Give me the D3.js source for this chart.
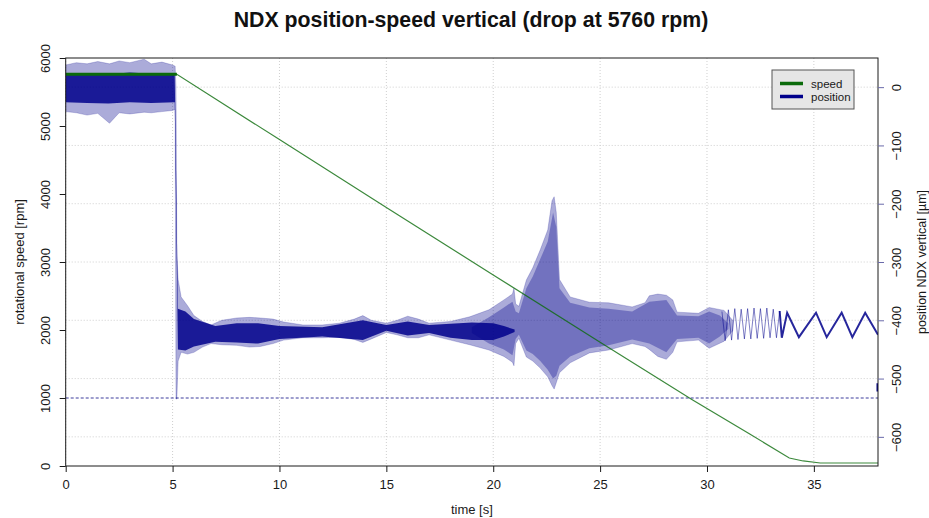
<!DOCTYPE html>
<html>
<head>
<meta charset="utf-8">
<script src="https://cdnjs.cloudflare.com/ajax/libs/d3/7.8.5/d3.min.js"></script>
<style>
	body { margin: 0; background: #fff; }
	svg { display: block; font-family: "Liberation Sans", Arial, sans-serif; }
	.axis text { font-size: 13px; fill: #1a1a1a; }
	.axis line { stroke: #1a1a1a; }
	.y-right-axis line { stroke: #6a6aaa; }
	.grid line { stroke: #cfcfcf; stroke-dasharray: 1,2; }
</style>
</head>
<body>
<div id="chart"></div>
<script>

// rotational speed trace [rpm]
var speedTime = [0, 5.2, 10, 15, 20, 25, 29.33, 32, 33.85, 34.5, 35.3, 38];
var speedRpm  = [5760, 5760, 4800, 3800, 2810, 1820, 970, 470, 118, 74, 44, 44];

// position signal, outer envelope [um]
var posTime = [0, 0.5, 1, 1.5, 2.05, 2.5, 3, 3.67, 4, 4.5, 5, 5.12, 5.16, 5.2, 5.26, 5.4, 5.7, 6, 6.4, 6.8,
	7.3, 8, 8.6, 9.1, 9.7, 10.2, 11.1, 12, 12.8, 13.5, 13.9, 14.3, 15, 15.5, 16, 16.5, 17, 18, 18.9, 19.8,
	20.5, 20.9, 20.97, 21.05, 21.2, 21.55, 21.85, 22.2, 22.55, 22.75, 22.85, 22.95, 23.1, 23.6, 24.5, 25.4,
	26.5, 27.1, 27.3, 27.7, 28.1, 28.4, 28.6, 29.6, 30.1, 30.8, 31.2];
var posHigh = [38, 42, 40, 44, 40, 45, 42, 48, 40, 43, 38, 36, 0, -288, -330, -360, -375, -392, -402, -408,
	-400, -396, -395, -396, -398, -403, -408, -408, -405, -398, -392, -400, -405, -400, -393, -398, -405, -402, -394, -382,
	-365, -355, -345, -372, -376, -331, -310, -279, -245, -195, -188, -215, -330, -360, -369, -370,
	-377, -370, -358, -355, -357, -365, -386, -388, -378, -383, -400];
var posLow = [-42, -44, -48, -45, -62, -44, -46, -43, -44, -42, -40, -38, -535, -535, -470, -455, -458, -455, -446, -440,
	-442, -443, -446, -445, -440, -434, -430, -430, -429, -433, -438, -432, -421, -425, -430, -430, -425, -434, -442, -451,
	-462, -472, -478, -440, -431, -463, -470, -482, -497, -512, -518, -507, -490, -473, -456, -451,
	-440, -445, -450, -462, -467, -455, -437, -434, -448, -436, -418];

// position signal, dense core [um]
var coreTime = [0, 1, 2, 3, 4, 5.1, 5.25, 5.6, 6, 7, 8, 9, 10, 12, 13.9, 15, 16, 17, 18, 19, 20, 20.5, 21];
var coreHigh = [22, 24, 22, 25, 23, 22, -380, -385, -398, -410, -405, -405, -410, -412, -400, -408, -402, -408, -406, -404, -405, -410, -416];
var coreLow = [-26, -27, -28, -26, -27, -26, -450, -452, -445, -437, -438, -440, -432, -428, -434, -418, -426, -422, -430, -434, -434, -428, -420];

// position signal, striped part 19..31 s [um]
var stripeTime = [19, 19.8, 20.5, 20.9, 21.05, 21.2, 21.55, 21.85, 22.2, 22.55, 22.8, 22.95, 23.1, 23.6, 24.5, 25.4,
	26.5, 27.3, 28.1, 28.6, 29.6, 30.1, 30.6, 31];
var stripeHigh = [-412, -395, -378, -368, -385, -388, -345, -325, -295, -265, -215, -240, -345, -370, -378, -380,
	-385, -368, -365, -392, -393, -385, -392, -405];
var stripeLow = [-422, -440, -450, -460, -432, -425, -452, -458, -470, -485, -500, -495, -478, -462, -448, -443,
	-433, -440, -455, -432, -430, -440, -428, -415];

// position signal, fast zigzag fading out [um]
var zigTime = [30.7, 30.85, 31, 31.15, 31.3, 31.45, 31.6, 31.75, 31.9, 32.05, 32.2, 32.35, 32.5, 32.65, 32.8, 32.95,
	33.1, 33.25, 33.4];
var zigPos = [-385, -435, -382, -434, -380, -433, -381, -432, -380, -432, -379, -431, -380, -431, -379, -430,
	-381, -430, -384];

// position signal, slow oscillation at the end [um]
var waveTime = [33.4, 33.5, 33.75, 34.3, 35.1, 35.6, 36.3, 36.8, 37.4, 38];
var wavePos = [-384, -430, -387, -429, -387, -429, -387, -429, -387, -425];
var tailTime = [38, 38];
var tailPos = [-508, -522];

// reference level [rpm]
var dropLevel = 1000;

// ticks
var timeTicks = [0, 5, 10, 15, 20, 25, 30, 35];
var speedTicks = [0, 1000, 2000, 3000, 4000, 5000, 6000];
var posTicks = [0, -100, -200, -300, -400, -500, -600];

var legendLabels = ["speed", "position"];
var legendColors = ["#0b6b0b", "#00008b"];


DualAxisChart = function (_parentElement) {
	this.parentElement = _parentElement;
	this.initVis();
}

DualAxisChart.prototype.initVis = function () {
	var vis = this;

	vis.margin = { top: 58, right: 51, bottom: 52, left: 65.7 };
	vis.width = 929 - vis.margin.left - vis.margin.right;
	vis.height = 518 - vis.margin.top - vis.margin.bottom;

	vis.root = d3.select("#" + vis.parentElement).append("svg")
		.attr("width", 929)
		.attr("height", 518);

	vis.svg = vis.root.append("g")
		.attr("transform", "translate(" + vis.margin.left + "," + vis.margin.top + ")");

	vis.svg.append("defs").append("clipPath")
		.attr("id", "clip")
		.append("rect")
		.attr("width", vis.width)
		.attr("height", vis.height);

	// scales
	vis.x = d3.scaleLinear().domain([0, 38]).range([0, vis.width]);
	vis.ySpeed = d3.scaleLinear().domain([0, 6000]).range([vis.height, 0]);
	vis.yPos = d3.scaleLinear().domain([-650, 50]).range([vis.height, 0]);

	// grid (R style dotted)
	var grid = vis.svg.append("g").attr("class", "grid");
	grid.selectAll(".gx").data(timeTicks).enter().append("line")
		.attr("x1", function (d) { return vis.x(d); })
		.attr("x2", function (d) { return vis.x(d); })
		.attr("y1", 0).attr("y2", vis.height);
	grid.selectAll(".gy").data(posTicks).enter().append("line")
		.attr("x1", 0).attr("x2", vis.width)
		.attr("y1", function (d) { return vis.yPos(d); })
		.attr("y2", function (d) { return vis.yPos(d); });

	vis.plot = vis.svg.append("g").attr("clip-path", "url(#clip)");

	vis.updateVis();
}

DualAxisChart.prototype.updateVis = function () {
	var vis = this;

	function bandRows(ts, hi, lo) {
		return ts.map(function (t, i) { return { t: t, hi: hi[i], lo: lo[i] }; });
	}
	function lineRows(ts, vs) {
		return ts.map(function (t, i) { return { t: t, v: vs[i] }; });
	}

	var band = d3.area()
		.x(function (d) { return vis.x(d.t); })
		.y0(function (d) { return vis.yPos(d.lo); })
		.y1(function (d) { return vis.yPos(d.hi); });

	var posLine = d3.line()
		.x(function (d) { return vis.x(d.t); })
		.y(function (d) { return vis.yPos(d.v); });

	var speedLine = d3.line()
		.x(function (d) { return vis.x(d.t); })
		.y(function (d) { return vis.ySpeed(d.v); });

	// dashed reference line
	vis.plot.append("line")
		.attr("x1", 0).attr("x2", vis.width)
		.attr("y1", vis.ySpeed(dropLevel)).attr("y2", vis.ySpeed(dropLevel))
		.attr("stroke", "#3c3c9c")
		.attr("stroke-width", 1)
		.attr("stroke-dasharray", "3,2");

	// position
	vis.plot.append("path")
		.datum(bandRows(posTime, posHigh, posLow))
		.attr("d", band)
		.attr("fill", "#00008b")
		.attr("fill-opacity", 0.33)
		.attr("stroke", "#00008b")
		.attr("stroke-opacity", 0.25)
		.attr("stroke-width", 0.8);

	vis.plot.append("path")
		.datum(bandRows(stripeTime, stripeHigh, stripeLow))
		.attr("d", band)
		.attr("fill", "#00008b")
		.attr("fill-opacity", 0.33);

	vis.plot.append("path")
		.datum(bandRows(coreTime, coreHigh, coreLow))
		.attr("d", band)
		.attr("fill", "#00008b")
		.attr("fill-opacity", 0.85);

	vis.plot.append("path")
		.datum(lineRows(zigTime, zigPos))
		.attr("d", posLine)
		.attr("fill", "none")
		.attr("stroke", "#00008b")
		.attr("stroke-opacity", 0.5)
		.attr("stroke-width", 1);

	vis.plot.append("path")
		.datum(lineRows(waveTime, wavePos))
		.attr("d", posLine)
		.attr("fill", "none")
		.attr("stroke", "#00008b")
		.attr("stroke-opacity", 0.85)
		.attr("stroke-width", 2);

	vis.plot.append("path")
		.datum(lineRows(tailTime, tailPos))
		.attr("d", posLine)
		.attr("fill", "none")
		.attr("stroke", "#00008b")
		.attr("stroke-width", 3);

	// speed
	var speed = lineRows(speedTime, speedRpm);

	vis.plot.append("path")
		.datum(speed.slice(0, 2))
		.attr("d", speedLine)
		.attr("fill", "none")
		.attr("stroke", legendColors[0])
		.attr("stroke-width", 3);

	vis.plot.append("path")
		.datum(speed)
		.attr("d", speedLine)
		.attr("fill", "none")
		.attr("stroke", legendColors[0])
		.attr("stroke-opacity", 0.8)
		.attr("stroke-width", 1.2);

	// frame
	vis.svg.append("rect")
		.attr("width", vis.width)
		.attr("height", vis.height)
		.attr("fill", "none")
		.attr("stroke", "#1a1a1a")
		.attr("stroke-width", 1);

	// axes
	var xAxis = vis.svg.append("g")
		.attr("class", "axis x-axis")
		.attr("transform", "translate(0," + vis.height + ")")
		.call(d3.axisBottom(vis.x).tickValues(timeTicks).tickSize(6));
	xAxis.selectAll("text").attr("y", 13.5);

	var yLeft = vis.svg.append("g")
		.attr("class", "axis y-left-axis")
		.call(d3.axisLeft(vis.ySpeed).tickValues(speedTicks).tickSize(6).tickFormat(d3.format("d")));
	yLeft.selectAll("text")
		.attr("x", 0).attr("y", -16).attr("dy", 0)
		.attr("text-anchor", "middle")
		.attr("transform", "rotate(-90)");

	var yRight = vis.svg.append("g")
		.attr("class", "axis y-right-axis")
		.attr("transform", "translate(" + vis.width + ",0)")
		.call(d3.axisRight(vis.yPos).tickValues(posTicks).tickSize(6).tickFormat(d3.format("d")));
	yRight.selectAll("text")
		.attr("x", 0).attr("y", 22.5).attr("dy", 0)
		.attr("text-anchor", "middle")
		.attr("transform", "rotate(-90)");

	vis.svg.selectAll(".domain").remove();

	// labels
	vis.root.append("text")
		.attr("x", 471).attr("y", 27)
		.attr("text-anchor", "middle")
		.attr("font-size", 21.3)
		.attr("font-weight", "bold")
		.attr("fill", "#111")
		.text("NDX position-speed vertical (drop at 5760 rpm)");

	vis.root.append("text")
		.attr("x", vis.margin.left + vis.width / 2).attr("y", 514)
		.attr("text-anchor", "middle")
		.attr("font-size", 13)
		.attr("fill", "#1a1a1a")
		.text("time [s]");

	vis.root.append("text")
		.attr("transform", "translate(24," + (vis.margin.top + vis.height / 2) + ") rotate(-90)")
		.attr("text-anchor", "middle")
		.attr("font-size", 13)
		.attr("fill", "#1a1a1a")
		.text("rotational speed [rpm]");

	vis.root.append("text")
		.attr("transform", "translate(926," + (vis.margin.top + vis.height / 2) + ") rotate(-90)")
		.attr("text-anchor", "middle")
		.attr("font-size", 12.5)
		.attr("fill", "#1a1a1a")
		.text("position NDX vertical [µm]");

	// legend
	var legend = vis.svg.append("g")
		.attr("transform", "translate(" + (vis.width - 106) + ",12)");

	legend.append("rect")
		.attr("width", 82).attr("height", 39)
		.attr("fill", "#e6e6e6")
		.attr("stroke", "#555");

	var entries = legend.selectAll(".entry")
		.data(legendLabels)
		.enter().append("g")
		.attr("transform", function (d, i) { return "translate(0," + (13.5 + i * 13) + ")"; });

	entries.append("line")
		.attr("x1", 8).attr("x2", 31)
		.attr("stroke", function (d, i) { return legendColors[i]; })
		.attr("stroke-width", 3.5);

	entries.append("text")
		.attr("x", 39).attr("dy", "0.35em")
		.attr("font-size", 11.5)
		.attr("fill", "#1a1a1a")
		.text(function (d) { return d; });
}

var chart = new DualAxisChart("chart");
</script>
</body>
</html>
